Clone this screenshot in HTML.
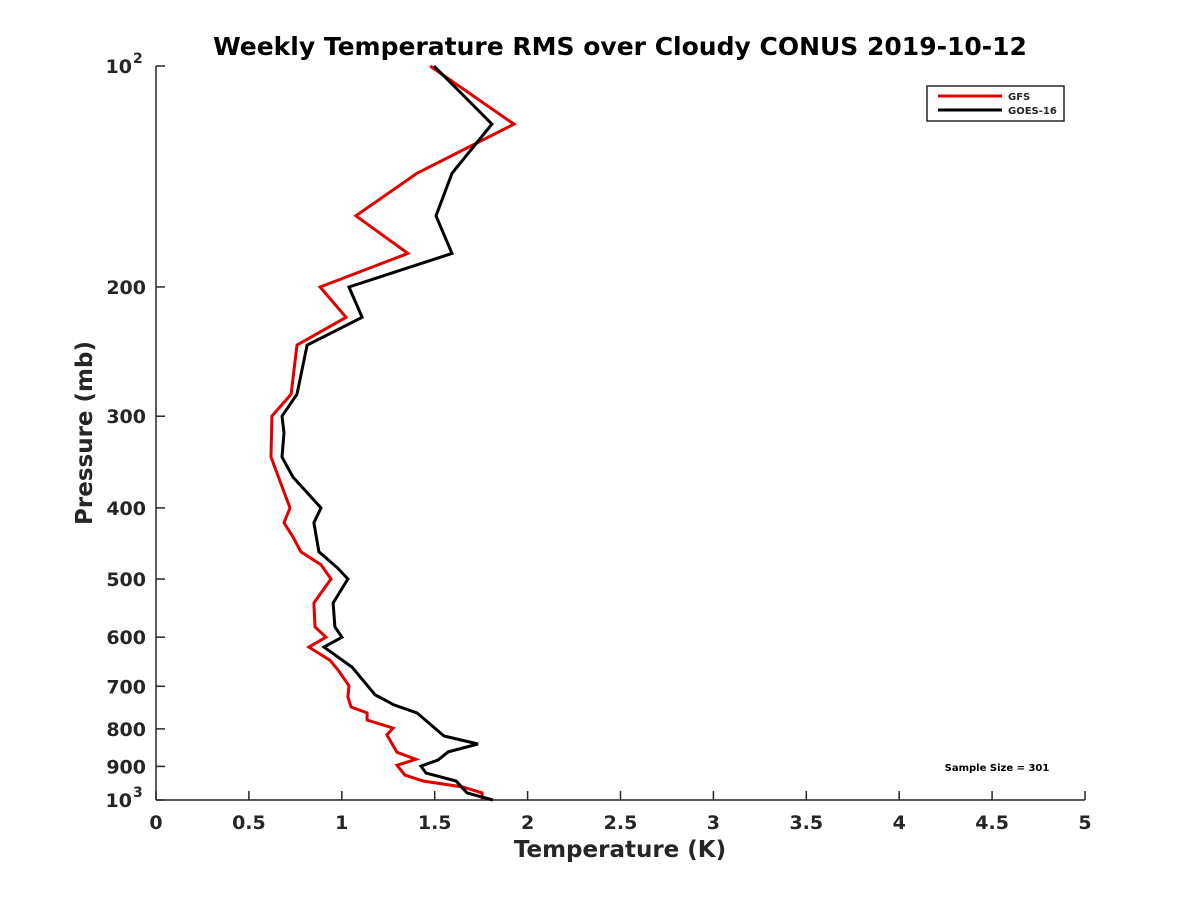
<!DOCTYPE html>
<html><head><meta charset="utf-8"><style>
body{margin:0;background:#fff}
svg text{font-family:"DejaVu Sans","Liberation Sans",sans-serif;font-weight:bold;fill:#262626}
</style></head><body>
<svg id="chart" width="1200" height="900" xmlns="http://www.w3.org/2000/svg">
<text x="620" y="55" font-size="25" text-anchor="middle" style="fill:#000">Weekly Temperature RMS over Cloudy CONUS 2019-10-12</text>
<g id="axes"></g>
<g id="series"></g>
<text x="620" y="857" font-size="23" text-anchor="middle">Temperature (K)</text>
<text transform="translate(92,433) rotate(-90)" font-size="23" text-anchor="middle">Pressure (mb)</text>
<g>
<rect x="927" y="86" width="137" height="35" fill="#fff" stroke="#262626" stroke-width="1.5"/>
<line x1="938" y1="96" x2="1002" y2="96" stroke="#e00000" stroke-width="3"/>
<text x="1008" y="100" font-size="10">GFS</text>
<line x1="938" y1="110" x2="1002" y2="110" stroke="#000" stroke-width="3"/>
<text x="1008" y="114" font-size="10">GOES-16</text>
</g>
<text x="997" y="771" font-size="10" text-anchor="middle" style="fill:#000">Sample Size = 301</text>
</svg>
<script>
const xTicks=[0,0.5,1,1.5,2,2.5,3,3.5,4,4.5,5];
const xTickLabels=["0","0.5","1","1.5","2","2.5","3","3.5","4","4.5","5"];
const yTicks=[100,200,300,400,500,600,700,800,900,1000];
const yTickLabels=["10^2","200","300","400","500","600","700","800","900","10^3"];
const gfsPressure=[100,120,140,160,180,200,220,240,280,300,341,400,419,438,459,478,500,539,581,600,619,645,665,699,724,747,761,778,798,815,861,880,897,925,942,960,978,1000];
const gfsTemp=[1.475,1.927,1.405,1.076,1.356,0.883,1.023,0.759,0.727,0.624,0.619,0.721,0.689,0.737,0.780,0.888,0.942,0.850,0.856,0.915,0.823,0.936,0.980,1.039,1.033,1.050,1.136,1.136,1.276,1.243,1.297,1.399,1.297,1.340,1.437,1.652,1.755,1.755];
const goesPressure=[100,120,140,160,180,200,220,240,280,300,316,341,363,400,419,459,482,500,539,581,600,619,659,719,742,761,818,839,860,882,899,919,942,978,1000];
const goesTemp=[1.496,1.808,1.593,1.507,1.593,1.039,1.109,0.813,0.759,0.678,0.689,0.678,0.737,0.888,0.850,0.877,0.974,1.033,0.953,0.963,1.001,0.904,1.055,1.179,1.281,1.405,1.550,1.733,1.572,1.518,1.426,1.453,1.615,1.674,1.814];

const L=156,R=1085,T=66,B=800;
const xs=t=>L+(R-L)*t/5;
const ys=p=>T+(B-T)*Math.log10(p/100);
const NS="http://www.w3.org/2000/svg";
function mk(tag,attrs,parent){const e=document.createElementNS(NS,tag);for(const k in attrs)e.setAttribute(k,attrs[k]);parent.appendChild(e);return e;}
const ax=document.getElementById('axes');
let a=mk('line',{x1:L,y1:B,x2:R,y2:B,stroke:'#262626','stroke-width':1.5},ax);


a=mk('line',{x1:L,y1:T,x2:L,y2:B,stroke:'#262626','stroke-width':1.5},ax);


xTicks.forEach((v,i)=>{
  const x=xs(v);
  const tk=mk('line',{x1:x,y1:B,x2:x,y2:B-9,stroke:'#262626','stroke-width':1.5},ax);
  
  
  const tx=mk('text',{x:x,y:B+29,'font-size':19,'text-anchor':'middle'},ax);
  tx.textContent=xTickLabels[i];
  
  
});
yTicks.forEach((v,i)=>{
  const y=ys(v);
  const tk=mk('line',{x1:L,y1:y,x2:L+9,y2:y,stroke:'#262626','stroke-width':1.5},ax);
  
  
  const lab=yTickLabels[i];
  const tx=mk('text',{x:L-10,y:y+7,'font-size':19,'text-anchor':'end'},ax);
  if(lab.includes('^')){
    const [b,e]=lab.split('^');
    tx.textContent=b;
    const sp=mk('tspan',{dy:-10,'font-size':14},tx);sp.textContent=e;
    tx.setAttribute('x',L-24);
    sp.setAttribute('x',L-23);
    sp.setAttribute('text-anchor','start');
  } else tx.textContent=lab;
  
  
});
const sg=document.getElementById('series');
function line(P,Tm,color,name){
  const pts=P.map((p,i)=>xs(Tm[i]).toFixed(1)+','+ys(p).toFixed(1)).join(' ');
  const pl=mk('polyline',{points:pts,fill:'none',stroke:color,'stroke-width':3,'stroke-linejoin':'miter'},sg);
  
  
}
line(gfsPressure,gfsTemp,'#e00000','gfs-line');
line(goesPressure,goesTemp,'#000000','goes16-line');
</script>
</body></html>
